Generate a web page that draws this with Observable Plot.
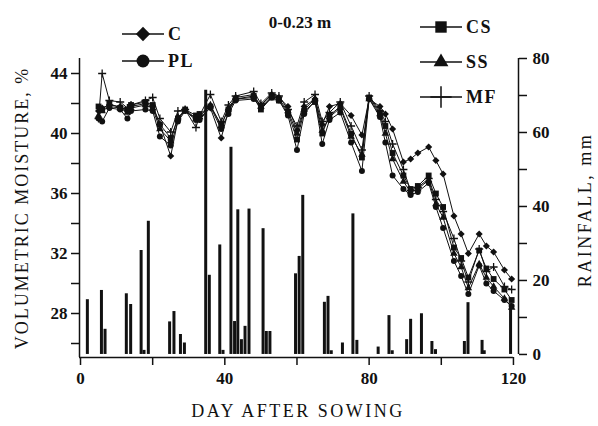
<!DOCTYPE html>
<html><head><meta charset="utf-8">
<script src="https://cdn.jsdelivr.net/npm/d3@7"></script>
<script src="https://cdn.jsdelivr.net/npm/@observablehq/plot@0.6"></script>
<style>
body{margin:0;background:#fff;}
#chart{position:relative;width:598px;height:426px;}
</style></head><body><div id="chart"></div>
<script>
// ---- data ----
const days = [5, 6, 8, 11, 13, 14, 18, 20, 22, 25, 27, 29, 32, 33, 36, 39, 41, 43, 48, 50, 53, 55, 57.5, 60, 62, 65, 67, 69, 72, 75, 78, 80, 83, 84.5, 86.5, 89.5, 91.5, 93.5, 96.5, 98.5, 100.5, 103.5, 105.5, 107.5, 110.5, 112.5, 114.5, 117.5, 119.5];
const C  = [41.5,41.7,41.9,41.8,41.5,41.8,42.0,41.8,40.6,38.5,40.9,41.6,41.0,41.0,41.7,39.7,41.5,42.3,42.4,41.9,42.6,42.4,41.8,40.2,41.8,42.3,40.6,41.8,42.0,41.2,39.9,42.3,41.8,41.3,40.3,38.1,38.3,38.7,39.1,38.2,37.3,34.5,33.3,32.0,33.3,32.5,32.1,30.9,30.3];
const PL = [41.0,40.8,41.7,41.6,41.0,41.5,41.6,41.5,39.8,39.2,40.8,41.5,40.9,40.9,41.8,40.3,41.3,42.2,42.3,41.7,42.4,42.2,41.2,38.9,41.3,42.2,39.3,40.9,41.4,39.4,37.5,42.3,41.1,39.4,37.2,36.3,35.9,36.1,36.7,35.1,33.7,31.5,30.5,29.3,31.2,30.0,29.5,28.9,28.5];
const CS = [41.8,41.6,42.0,41.7,41.6,41.9,42.1,41.9,40.6,39.7,41.0,41.6,41.2,41.3,41.8,40.6,41.6,42.3,42.5,41.6,42.4,42.2,41.4,39.6,41.5,42.1,40.0,41.2,41.8,40.0,38.4,42.4,41.4,40.5,38.7,37.2,36.3,36.5,37.2,36.0,35.1,32.4,31.7,30.4,32.2,31.0,30.3,29.6,28.9];
const SS = [41.2,41.5,41.8,41.7,41.4,41.7,41.9,41.7,40.3,39.5,41.1,41.5,41.0,41.1,41.9,40.5,41.7,42.4,42.6,41.8,42.5,42.3,41.5,40.0,41.6,42.3,40.2,41.1,41.7,39.8,38.6,42.3,41.3,40.0,38.3,36.8,36.1,36.3,36.9,35.3,34.4,32.0,31.1,29.7,31.3,30.4,29.8,29.0,28.4];
const MF = [41.0,44.0,42.2,42.1,41.7,41.9,42.2,42.4,41.0,40.1,41.5,41.6,40.4,41.2,42.6,40.8,41.9,42.5,42.8,42.0,42.7,42.5,41.6,40.5,42.1,42.6,40.8,41.4,42.1,40.5,38.9,42.5,41.5,40.8,39.3,37.6,36.2,36.4,37.0,35.6,34.8,33.0,31.5,30.1,32.3,30.8,31.1,29.8,29.6];
const seriesNames = ["C", "PL", "CS", "SS", "MF"];

const rainDays = [1.9, 5.8, 6.8, 12.7, 13.9, 16.8, 17.6, 18.8, 24.7, 25.9, 27.7, 28.8, 34.7, 35.7, 38.6, 39.5, 41.7, 42.7, 43.6, 44.6, 45.6, 46.7, 50.6, 51.5, 52.5, 59.6, 60.6, 61.6, 67.6, 68.6, 69.5, 72.6, 75.5, 76.6, 82.5, 85.5, 86.4, 90.4, 91.5, 94.5, 97.4, 98.4, 106.4, 107.4, 111.3, 111.9, 119.2];
const rainMm   = [14.8, 17.3, 6.8, 16.4, 13.5, 28.1, 1.1, 36.0, 8.8, 11.6, 5.4, 3.1, 71.4, 21.4, 29.6, 1.1, 56.0, 8.9, 39.1, 4.0, 7.6, 39.3, 34.0, 6.2, 6.2, 21.8, 26.5, 43.0, 14.1, 15.7, 1.0, 3.1, 38.0, 3.8, 2.0, 10.5, 1.0, 4.0, 9.5, 11.0, 3.5, 1.3, 3.5, 14.0, 3.8, 1.0, 13.7];

const xTicks = [0, 20, 40, 60, 80, 100, 120];
const xLabels = [0, 40, 80, 120];
const yTicks = [26, 28, 30, 32, 34, 36, 38, 40, 42, 44];
const yLabels = [28, 32, 36, 40, 44];
const rainTicks = [0, 10, 20, 30, 40, 50, 60, 70, 80];
const rainLabels = [0, 20, 40, 60, 80];

// ---- layout ----
const W = 598, H = 426;
const mL = 79, mR = 80, mT = 58, mB = 69;
const xDom = [-0.28, 121.4];
const yDom = [25.067, 45];
const rainZero = 25.27, rainTop = 45, rainMax = 80;
const toY = mm => rainZero + mm * (rainTop - rainZero) / rainMax;
const fromY = v => Math.round((v - rainZero) * rainMax / (rainTop - rainZero));

const seriesVals = {C, PL, CS, SS, MF};
const sym = {C: "diamond2", PL: "circle", CS: "square", SS: "triangle", MF: "plus"};
const symR = {C: 3.2, PL: 3.0, CS: 3.3, SS: 2.8, MF: 2.7};

const rain = rainDays.map((d, i) => ({day: d, mm: rainMm[i]}));

const marks = [];
marks.push(Plot.ruleX(rain, {x: "day", y1: toY(0), y2: d => toY(d.mm), stroke: "#111", strokeWidth: 3}));
for (const s of seriesNames) {
  const data = days.map((d, i) => ({day: d, v: seriesVals[s][i]}));
  marks.push(Plot.line(data, {x: "day", y: "v", stroke: "#111", strokeWidth: 1}));
}
for (const s of seriesNames) {
  const data = days.map((d, i) => ({day: d, v: seriesVals[s][i]}));
  if (s === "MF") {
    marks.push(Plot.dot(data, {x: "day", y: "v", symbol: sym[s], r: symR[s], stroke: "#111", strokeWidth: 1.3, fill: "none"}));
  } else {
    marks.push(Plot.dot(data, {x: "day", y: "v", symbol: sym[s], r: symR[s], fill: "#111", stroke: "none"}));
  }
}
// axis lines
marks.push(Plot.ruleX([xDom[0]], {y1: yDom[0], y2: yDom[1], stroke: "#111", strokeWidth: 1.5}));
marks.push(Plot.ruleX([xDom[1]], {y1: toY(0), y2: yDom[1], stroke: "#111", strokeWidth: 1.5}));
marks.push(Plot.ruleY([yDom[0]], {x1: xDom[0], x2: 120, stroke: "#111", strokeWidth: 1.5}));
// axes
marks.push(Plot.axisX(xTicks, {tickSize: 8, tickPadding: 6, strokeWidth: 1.5, tickFormat: d => xLabels.includes(d) ? String(d) : "", label: null}));
marks.push(Plot.axisY(yTicks, {anchor: "left", tickSize: 8, tickPadding: 4, strokeWidth: 1.5, tickFormat: d => yLabels.includes(d) ? String(d) : "", label: null}));
marks.push(Plot.axisY(rainTicks.map(toY), {anchor: "right", tickSize: 8, tickPadding: 6, strokeWidth: 1.5, tickFormat: v => { const m = fromY(v); return rainLabels.includes(m) ? String(m) : ""; }, label: null}));

const chart = Plot.plot({
  width: W, height: H,
  marginLeft: mL, marginRight: mR, marginTop: mT, marginBottom: mB,
  x: {domain: xDom},
  y: {domain: yDom},
  style: {fontFamily: "'Liberation Serif', 'Times New Roman', serif", fontSize: "17px", fontWeight: "bold", color: "#111", background: "#fff", overflow: "visible"},
  marks
});
document.getElementById("chart").appendChild(chart);

// ---- titles & legend ----
const svg = d3.select(chart);
const serif = "'Liberation Serif', 'Times New Roman', serif";
svg.append("text").attr("x", 300).attr("y", 28).attr("text-anchor", "middle")
  .attr("font-family", serif).attr("font-size", 17).attr("font-weight", "bold").attr("fill", "#111").text("0-0.23 m");
svg.append("text").attr("x", 298).attr("y", 417).attr("text-anchor", "middle")
  .attr("font-family", serif).attr("font-size", 18).attr("font-weight", "normal").attr("letter-spacing", "2.5px").attr("fill", "#111").text("DAY AFTER SOWING");
svg.append("text").attr("transform", "translate(28,208) rotate(-90)").attr("text-anchor", "middle")
  .attr("font-family", serif).attr("font-size", 18).attr("font-weight", "normal").attr("letter-spacing", "2px").attr("fill", "#111").text("VOLUMETRIC MOISTURE, %");
svg.append("text").attr("transform", "translate(591,210) rotate(-90)").attr("text-anchor", "middle")
  .attr("font-family", serif).attr("font-size", 18).attr("font-weight", "normal").attr("letter-spacing", "2.5px").attr("fill", "#111").text("RAINFALL, mm");

const legendPos = {C: [122, 34], PL: [122, 61], CS: [420, 27], SS: [420, 62], MF: [420, 97]};
const symMap = {diamond2: d3.symbolDiamond2, circle: d3.symbolCircle, square: d3.symbolSquare, triangle: d3.symbolTriangle, plus: d3.symbolPlus};
for (const s of seriesNames) {
  const [lx, ly] = legendPos[s];
  const g = svg.append("g");
  g.append("line").attr("x1", lx).attr("x2", lx + 42).attr("y1", ly).attr("y2", ly).attr("stroke", "#111").attr("stroke-width", 1.3);
  const p = d3.symbol(symMap[sym[s]], s === "MF" ? 150 : (s === "SS" ? 95 : 130))();
  const path = g.append("path").attr("d", p).attr("transform", `translate(${lx + 21},${ly})`);
  if (s === "MF") path.attr("fill", "none").attr("stroke", "#111").attr("stroke-width", 1.5);
  else path.attr("fill", "#111");
  g.append("text").attr("x", lx + 46).attr("y", ly).attr("dy", "0.35em").attr("text-anchor", "start")
    .attr("font-family", serif).attr("font-size", 18).attr("font-weight", "bold").attr("letter-spacing", "1.5px").attr("fill", "#111").text(s);
}
</script>
</body></html>
